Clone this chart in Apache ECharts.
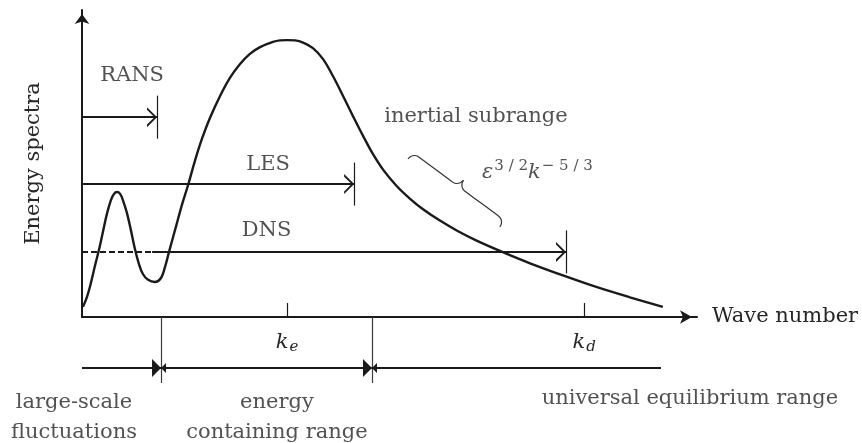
<!DOCTYPE html>
<html>
<head>
<meta charset="utf-8">
<title>Energy spectra versus wave number</title>
<script src="https://cdn.jsdelivr.net/npm/echarts@6/dist/echarts.min.js"></script>
<style>
  html, body { margin: 0; padding: 0; background: #ffffff; }
  #chart { width: 862px; height: 443px; }
</style>
</head>
<body>
<div id="chart"></div>
<script>
// ---- Energy spectrum E(k) against wave number k (arbitrary units) ----
const waveNumber = [0.03, 0.16, 0.29, 0.42, 0.55, 0.68, 0.81, 0.94, 1.04, 1.14,
  1.24, 1.33, 1.46, 1.59, 1.72, 1.85, 1.98, 2.15, 2.37, 2.57,
  2.70, 2.83, 3.06, 3.25, 3.45, 3.67, 3.90, 4.16, 4.49, 4.81,
  5.14, 5.46, 5.79, 6.21, 6.44, 6.67, 6.93, 7.19, 7.51, 7.84,
  8.16, 8.49, 8.81, 9.14, 9.46, 9.79, 10.24, 10.67, 11.09, 11.64,
  12.20, 12.85, 13.76, 14.57, 15.71, 16.75, 17.82, 18.89];
const energy = [0.33, 0.65, 1.11, 1.66, 2.18, 2.77, 3.36, 3.81, 4.01, 4.07,
  4.01, 3.81, 3.39, 2.83, 2.22, 1.73, 1.40, 1.21, 1.14, 1.27,
  1.63, 2.12, 2.96, 3.65, 4.30, 5.08, 5.80, 6.48, 7.20, 7.79,
  8.24, 8.57, 8.79, 8.96, 9.01, 9.02, 9.01, 8.94, 8.76, 8.40,
  7.85, 7.20, 6.55, 5.90, 5.31, 4.80, 4.26, 3.85, 3.51, 3.14,
  2.81, 2.48, 2.08, 1.75, 1.33, 0.97, 0.64, 0.33];

// Resolved wave-number span of each simulation approach
const models = ['RANS', 'LES', 'DNS'];
const modelLevel = [6.51, 4.33, 2.12];
const modelCutoff = [2.44, 8.85, 15.74];
const dnsDashedEnd = 2.28;

// Characteristic wave numbers k_e and k_d
const scaleTicks = [6.67, 16.33];
const scaleSubscripts = ['e', 'd'];

// Spectral ranges along the wave-number axis
const rangeBounds = [0, 2.57, 9.43, 18.83];
const rangeNames = ['large-scale\nfluctuations', 'energy\ncontaining range', 'universal equilibrium range'];

// Inertial subrange brace end points
const braceEnds = [[10.60, 5.15], [13.59, 2.93]];

// ---- layout (data units) ----
const PX = 1 / 30.7;                // one screen pixel in data units
const rangeArrowY = -1.66;
const rangeSepBottom = -2.15;
const barHalf = 0.70;
const ink = '#1a1a1a';
const textInk = '#262626';
const serif = 'DejaVu Serif';

const chevron = 'path://M7,0.05L7.05,0L7,0Z M0,20 L7,10 L14,20 L12.2,20 L7,12.6 L1.8,20 Z';
const triangle = 'path://M5,0.05L5.05,0L5,0Z M5,9 L10,18 L0,18 Z';

const notes = [
  { text: 'RANS', at: [1.63, 7.88] },
  { text: 'LES', at: [6.05, 4.95] },
  { text: 'DNS', at: [6.00, 2.83] },
  { text: 'inertial subrange', at: [12.81, 6.54] },
  { text: '{m|ε}{p|3 / 2}{m|k}{p|− 5 / 3}', at: [13.01, 4.72], align: 'left' },
  { text: rangeNames[0], at: [-0.26, -3.29] },
  { text: rangeNames[1], at: [6.34, -3.26] },
  { text: rangeNames[2], at: [19.77, -2.64] }
];

// curly brace between two points, bulging away from the curve
function bracePoints(p0, p1) {
  const dx = p1[0] - p0[0], dy = p1[1] - p0[1];
  const len = Math.hypot(dx, dy);
  const ux = dx / len, uy = dy / len;
  let nx = -uy, ny = ux;
  if (nx < 0) { nx = -nx; ny = -ny; }
  const L = len / PX, h = L / 2;
  const profile = [[0, 0], [1, 4], [3.5, 6.8], [7, 8], [h - 7, 8], [h - 3.5, 9.2], [h - 1, 12], [h, 16],
    [h + 1, 12], [h + 3.5, 9.2], [h + 7, 8], [L - 7, 8], [L - 3.5, 6.8], [L - 1, 4], [L, 0]];
  return profile.map(([s, t]) => [p0[0] + (s * ux + t * nx) * PX, p0[1] + (s * uy + t * ny) * PX]);
}

const curve = waveNumber.map((k, i) => [k, energy[i]]);

const modelArrows = models.map((m, i) => ({
  coords: [[i === 2 ? dnsDashedEnd : 0, modelLevel[i]], [modelCutoff[i], modelLevel[i]]]
}));
const modelBars = models.map((m, i) => ({
  coords: [[modelCutoff[i], modelLevel[i] - barHalf], [modelCutoff[i], modelLevel[i] + barHalf]]
}));
const rangeSeg = i => [{ coords: [[rangeBounds[i], rangeArrowY], [rangeBounds[i + 1], rangeArrowY]] }];
const rangeSeps = rangeBounds.slice(1, 3).map(b => ({ coords: [[b, 0], [b, rangeSepBottom]] }));

const textStyle = { fontFamily: serif, fontSize: 21, color: textInk };

const chart = echarts.init(document.getElementById('chart'), null, { renderer: 'canvas' });
chart.setOption({
  animation: false,
  backgroundColor: '#ffffff',
  grid: { left: 82, right: 165, top: 10, bottom: 126, containLabel: false, outerBoundsMode: 'none' },
  xAxis: {
    type: 'value', min: 0, max: 20,
    name: 'Wave number', nameLocation: 'end', nameGap: 15,
    nameTextStyle: Object.assign({ verticalAlign: 'middle' }, textStyle),
    axisLine: { show: true, onZero: true, lineStyle: { color: ink, width: 2 },
      symbol: ['none', 'arrow'], symbolSize: [10, 12], symbolOffset: [0, -5] },
    axisTick: { show: true, inside: true, length: 14, customValues: scaleTicks,
      lineStyle: { color: ink, width: 1.2 } },
    axisLabel: {
      show: true, customValues: scaleTicks, margin: 14,
      formatter: v => {
        const i = scaleTicks.findIndex(t => Math.abs(t - v) < 1e-6);
        return '{k|k}{s|' + scaleSubscripts[i] + '}';
      },
      rich: {
        k: { fontFamily: serif, fontStyle: 'italic', fontSize: 21, color: textInk },
        s: { fontFamily: serif, fontStyle: 'italic', fontSize: 15, color: textInk, padding: [9, 0, 0, 1] }
      }
    },
    splitLine: { show: false }
  },
  yAxis: {
    type: 'value', min: 0, max: 10,
    name: 'Energy spectra', nameLocation: 'middle', nameRotate: 90, nameGap: 38,
    nameTextStyle: textStyle,
    axisLine: { show: true, lineStyle: { color: ink, width: 2 },
      symbol: ['none', 'arrow'], symbolSize: [11, 10], symbolOffset: [0, -4] },
    axisTick: { show: false },
    axisLabel: { show: false },
    splitLine: { show: false }
  },
  series: [
    {
      name: 'E(k)', type: 'line', data: curve, smooth: 0.35, showSymbol: false, silent: true,
      lineStyle: { color: ink, width: 2.4 }
    },
    {
      name: 'model spans', type: 'lines', coordinateSystem: 'cartesian2d', clip: false, silent: true,
      symbol: ['none', chevron], symbolSize: [14, 20],
      lineStyle: { color: ink, width: 2, opacity: 1 }, data: modelArrows
    },
    {
      name: 'DNS large scales', type: 'lines', coordinateSystem: 'cartesian2d', clip: false, silent: true,
      symbol: ['none', 'none'],
      lineStyle: { color: ink, width: 2, type: [6, 3], opacity: 1 },
      data: [{ coords: [[0, modelLevel[2]], [dnsDashedEnd, modelLevel[2]]] }]
    },
    {
      name: 'cut-offs', type: 'lines', coordinateSystem: 'cartesian2d', clip: false, silent: true,
      symbol: ['none', 'none'], lineStyle: { color: ink, width: 1.2, opacity: 1 }, data: modelBars
    },
    {
      name: 'range separators', type: 'lines', coordinateSystem: 'cartesian2d', clip: false, silent: true,
      symbol: ['none', 'none'], lineStyle: { color: '#3a3a3a', width: 1.2, opacity: 1 }, data: rangeSeps
    },
    {
      name: 'range 1', type: 'lines', coordinateSystem: 'cartesian2d', clip: false, silent: true,
      symbol: ['none', triangle], symbolSize: [10, 18],
      lineStyle: { color: ink, width: 2, opacity: 1 }, data: rangeSeg(0)
    },
    {
      name: 'range 2', type: 'lines', coordinateSystem: 'cartesian2d', clip: false, silent: true,
      symbol: [triangle, triangle], symbolSize: [10, 18],
      lineStyle: { color: ink, width: 2, opacity: 1 }, data: rangeSeg(1)
    },
    {
      name: 'range 3', type: 'lines', coordinateSystem: 'cartesian2d', clip: false, silent: true,
      symbol: [triangle, 'none'], symbolSize: [10, 18],
      lineStyle: { color: ink, width: 2, opacity: 1 }, data: rangeSeg(2)
    },
    {
      name: 'brace', type: 'line', data: bracePoints(braceEnds[0], braceEnds[1]),
      smooth: 0.2, showSymbol: false, silent: true, clip: false,
      lineStyle: { color: '#333333', width: 1.2 }
    },
    {
      name: 'notes', type: 'scatter', clip: false, silent: true, symbolSize: 0,
      itemStyle: { color: 'transparent' },
      data: notes.map(n => ({
        value: n.at,
        label: {
          show: true, position: 'inside', formatter: n.text,
          align: n.align || 'center', verticalAlign: 'middle', lineHeight: 30,
          fontFamily: serif, fontSize: 21, color: textInk,
          rich: {
            m: { fontFamily: serif, fontStyle: 'italic', fontSize: 21, color: textInk },
            p: { fontFamily: serif, fontSize: 15, color: textInk, padding: [0, 0, 12, 1] }
          }
        }
      }))
    }
  ]
});
</script>
</body>
</html>
